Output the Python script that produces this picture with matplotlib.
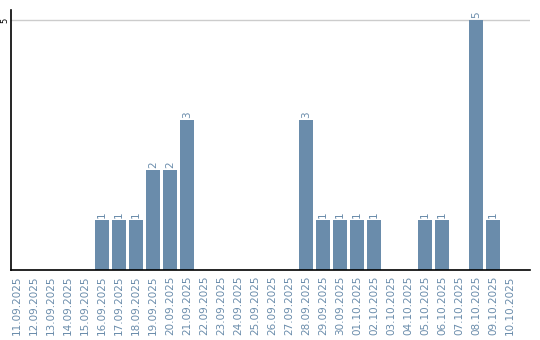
import numpy as np
import matplotlib.pyplot as plt

dates = ['11.09.2025', '12.09.2025', '13.09.2025', '14.09.2025', '15.09.2025',
         '16.09.2025', '17.09.2025', '18.09.2025', '19.09.2025', '20.09.2025',
         '21.09.2025', '22.09.2025', '23.09.2025', '24.09.2025', '25.09.2025',
         '26.09.2025', '27.09.2025', '28.09.2025', '29.09.2025', '30.09.2025',
         '01.10.2025', '02.10.2025', '03.10.2025', '04.10.2025', '05.10.2025',
         '06.10.2025', '07.10.2025', '08.10.2025', '09.10.2025', '10.10.2025']
counts = [0, 0, 0, 0, 0,
          1, 1, 1, 2, 2,
          3, 0, 0, 0, 0,
          0, 0, 3, 1, 1,
          1, 1, 0, 0, 1,
          1, 0, 5, 1, 0]

bar_color = '#6a8cab'
text_color = '#6a8cab'

fig = plt.figure(figsize=(5.4, 3.4), dpi=100)
ax = fig.add_axes([11 / 540, 70 / 340, 519 / 540, 260 / 340])

x = np.arange(len(dates))
ax.bar(x, counts, width=0.82, color=bar_color, zorder=2)

for xi, c in zip(x, counts):
    if c > 0:
        ax.text(xi, c + 0.04, str(c), rotation=90, ha='center', va='bottom',
                fontsize=7.5, color=text_color)

ax.set_xlim(-0.35, 30.18)
ax.set_ylim(0, 5.2)
ax.set_yticks([5])
ax.set_yticklabels(['5'], rotation=90, va='center', fontsize=6)
ax.set_xticks(x)
ax.set_xticklabels(dates, rotation=90, fontsize=7.5, color=text_color)
ax.tick_params(length=0, pad=4)
ax.tick_params(axis='y', pad=1.5)
ax.grid(axis='y', color='#cccccc', linewidth=1, zorder=0)

for s in ['top', 'right']:
    ax.spines[s].set_visible(False)
for s in ['left', 'bottom']:
    ax.spines[s].set_color('black')
    ax.spines[s].set_linewidth(1.2)

fig.savefig('out.png', dpi=100)
